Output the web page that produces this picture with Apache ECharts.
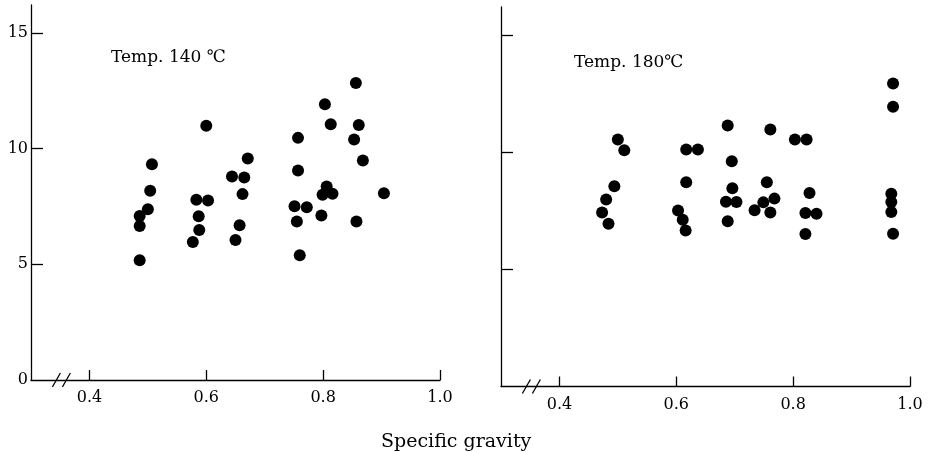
<!DOCTYPE html>
<html><head><meta charset="utf-8">
<script src="https://cdn.jsdelivr.net/npm/echarts@6/dist/echarts.min.js"></script>
<style>html,body{margin:0;padding:0;background:#fff}#c{width:928px;height:452px}</style>
</head><body><div id="c"></div>
<script>
// Temp. 140 °C panel
const x140 = [0.486,0.486,0.486,0.500,0.504,0.507, 0.577,0.588,0.587,0.583,0.603,0.600, 0.650,0.657,0.662,0.644,0.665,0.671,
  0.856,0.803,0.813,0.861,0.757,0.853,0.868,0.757,0.806,0.799,0.816,0.904,0.751,0.772,0.797,0.755,0.857,0.760];
const y140 = [5.17,6.65,7.08,7.38,8.18,9.32, 5.96,6.48,7.07,7.79,7.75,10.98, 6.05,6.69,8.03,8.79,8.75,9.57,
  12.83,11.91,11.05,11.02,10.46,10.39,9.48,9.05,8.36,8.00,8.05,8.07,7.51,7.46,7.11,6.85,6.85,5.39];
// Temp. 180 °C panel
const x180 = [0.500,0.511,0.494,0.480,0.473,0.484, 0.617,0.637,0.617,0.603,0.611,0.616, 0.688,0.695,0.696,0.685,0.703,0.688,
  0.761,0.755,0.768,0.749,0.734,0.761, 0.803,0.823,0.828,0.821,0.840,0.821, 0.971,0.971,0.968,0.968,0.968,0.971];
const y180 = [10.54,10.09,8.55,7.98,7.43,6.95, 10.12,10.12,8.72,7.51,7.12,6.66, 11.14,9.62,8.46,7.89,7.88,7.05,
  10.97,8.72,8.02,7.86,7.52,7.43, 10.54,10.54,8.26,7.41,7.37,6.51, 12.93,11.94,8.23,7.88,7.45,6.52];
const xTicks = [0.4,0.6,0.8,1.0];
const yTicks = [0,5,10,15];
const panelTitles = ['Temp. 140 ℃','Temp. 180℃'];
const xName = 'Specific gravity';

const FONT = 'DejaVu Serif';
const chart = echarts.init(document.getElementById('c'), null, {renderer:'canvas'});
function xAx(i){return {gridIndex:i,type:'value',min:0.3,max:1.0,
  axisLine:{show:true,onZero:false,lineStyle:{color:'#000',width:1.3}},
  axisTick:{show:true,inside:true,length:10,customValues:xTicks,lineStyle:{color:'#000',width:1.3}},
  axisLabel:{show:true,customValues:xTicks,formatter:v=>v.toFixed(1),color:'#000',fontFamily:FONT,fontSize:16,margin:10},
  splitLine:{show:false}};}
function yAx(i,showLabel){return {gridIndex:i,type:'value',min:0,max:16.2,
  axisLine:{show:true,onZero:false,lineStyle:{color:'#000',width:1.3}},
  axisTick:{show:true,inside:true,length:12,customValues:yTicks.slice(1),lineStyle:{color:'#000',width:1.3}},
  axisLabel:{show:showLabel,customValues:yTicks,color:'#000',fontFamily:FONT,fontSize:16,margin:3},
  splitLine:{show:false}};}
const pts = (xs,ys)=>xs.map((v,i)=>[v,ys[i]]);
chart.setOption({
  animation:false,
  backgroundColor:'#fff',
  grid:[{left:31,top:5,width:409,height:375},{left:501,top:7,width:409,height:379.5}],
  xAxis:[xAx(0),xAx(1)],
  yAxis:[yAx(0,true),yAx(1,false)],
  title:[
    {text:panelTitles[0],left:106,top:44,textStyle:{fontFamily:FONT,fontSize:17,fontWeight:'normal',color:'#000'}},
    {text:panelTitles[1],left:569,top:49,textStyle:{fontFamily:FONT,fontSize:17,fontWeight:'normal',color:'#000'}},
    {text:xName,left:376,top:428,textStyle:{fontFamily:FONT,fontSize:19,fontWeight:'normal',color:'#000'}}
  ],
  series:[
    {type:'scatter',xAxisIndex:0,yAxisIndex:0,data:pts(x140,y140),symbol:'circle',symbolSize:12,itemStyle:{color:'#000',opacity:1}},
    {type:'scatter',xAxisIndex:1,yAxisIndex:1,data:pts(x180,y180),symbol:'circle',symbolSize:12,itemStyle:{color:'#000',opacity:1}}
  ]
});
// axis break marks "//"
const g=[];
[0,1].forEach(i=>{
  const p = chart.convertToPixel({xAxisIndex:i,yAxisIndex:i},[0.352,0]);
  [-5,5].forEach(d=>{
    g.push({type:'line',shape:{x1:p[0]+d-4,y1:p[1]+7,x2:p[0]+d+4,y2:p[1]-7},style:{stroke:'#000',lineWidth:1.3}});
  });
});
chart.setOption({graphic:g});
</script></body></html>
